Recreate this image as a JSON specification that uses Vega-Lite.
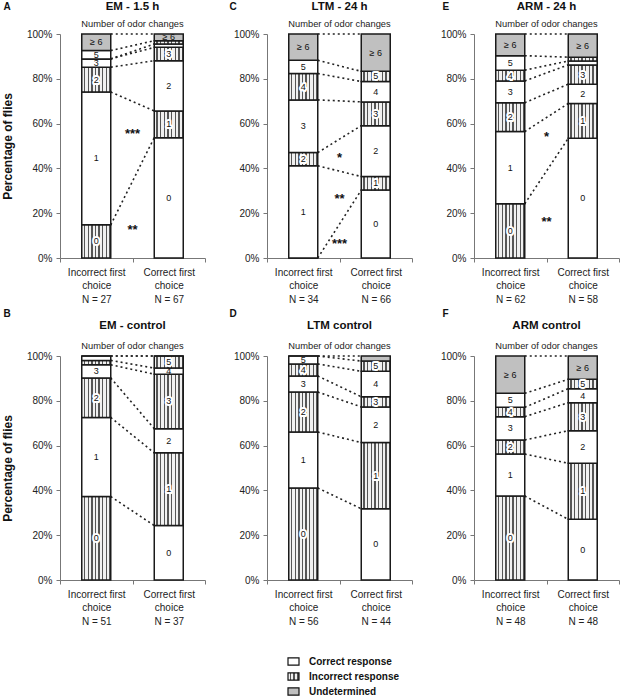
{
  "$schema": "https://vega.github.io/schema/vega-lite/v6.json",
  "background": "white",
  "padding": {"left": 1, "top": 1, "right": 0, "bottom": 0},
  "params": [
    {"name": "hatch", "expr": "{gradient:'linear',x1:0,y1:0,x2:1,y2:0,stops:[{offset:0,color:'#f0f0f0'},{offset:0.075,color:'#f0f0f0'},{offset:0.075,color:'#555'},{offset:0.125,color:'#555'},{offset:0.125,color:'#f0f0f0'},{offset:0.2,color:'#f0f0f0'},{offset:0.2,color:'#555'},{offset:0.25,color:'#555'},{offset:0.25,color:'#f0f0f0'},{offset:0.325,color:'#f0f0f0'},{offset:0.325,color:'#555'},{offset:0.375,color:'#555'},{offset:0.375,color:'#f0f0f0'},{offset:0.45,color:'#f0f0f0'},{offset:0.45,color:'#555'},{offset:0.5,color:'#555'},{offset:0.5,color:'#f0f0f0'},{offset:0.575,color:'#f0f0f0'},{offset:0.575,color:'#555'},{offset:0.625,color:'#555'},{offset:0.625,color:'#f0f0f0'},{offset:0.7,color:'#f0f0f0'},{offset:0.7,color:'#555'},{offset:0.75,color:'#555'},{offset:0.75,color:'#f0f0f0'},{offset:0.825,color:'#f0f0f0'},{offset:0.825,color:'#555'},{offset:0.875,color:'#555'},{offset:0.875,color:'#f0f0f0'},{offset:0.95,color:'#f0f0f0'},{offset:0.95,color:'#555'},{offset:1,color:'#555'}]}"}
  ],
  "datasets": {
    "counts": [
      {"p": "A", "choice": "Incorrect first choice", "k": "0", "n": 4, "resp": "Incorrect response"},
      {"p": "A", "choice": "Incorrect first choice", "k": "1", "n": 16, "resp": "Correct response"},
      {"p": "A", "choice": "Incorrect first choice", "k": "2", "n": 3, "resp": "Incorrect response"},
      {"p": "A", "choice": "Incorrect first choice", "k": "3", "n": 1, "resp": "Correct response"},
      {"p": "A", "choice": "Incorrect first choice", "k": "4", "n": 0, "resp": "Incorrect response"},
      {"p": "A", "choice": "Incorrect first choice", "k": "5", "n": 1, "resp": "Correct response"},
      {"p": "A", "choice": "Incorrect first choice", "k": "≥ 6", "n": 2, "resp": "Undetermined"},
      {"p": "A", "choice": "Correct first choice", "k": "0", "n": 36, "resp": "Correct response"},
      {"p": "A", "choice": "Correct first choice", "k": "1", "n": 8, "resp": "Incorrect response"},
      {"p": "A", "choice": "Correct first choice", "k": "2", "n": 15, "resp": "Correct response"},
      {"p": "A", "choice": "Correct first choice", "k": "3", "n": 4, "resp": "Incorrect response"},
      {"p": "A", "choice": "Correct first choice", "k": "4", "n": 1, "resp": "Correct response"},
      {"p": "A", "choice": "Correct first choice", "k": "5", "n": 1, "resp": "Incorrect response"},
      {"p": "A", "choice": "Correct first choice", "k": "≥ 6", "n": 2, "resp": "Undetermined"},

      {"p": "C", "choice": "Incorrect first choice", "k": "0", "n": 0, "resp": "Incorrect response"},
      {"p": "C", "choice": "Incorrect first choice", "k": "1", "n": 14, "resp": "Correct response"},
      {"p": "C", "choice": "Incorrect first choice", "k": "2", "n": 2, "resp": "Incorrect response"},
      {"p": "C", "choice": "Incorrect first choice", "k": "3", "n": 8, "resp": "Correct response"},
      {"p": "C", "choice": "Incorrect first choice", "k": "4", "n": 4, "resp": "Incorrect response"},
      {"p": "C", "choice": "Incorrect first choice", "k": "5", "n": 2, "resp": "Correct response"},
      {"p": "C", "choice": "Incorrect first choice", "k": "≥ 6", "n": 4, "resp": "Undetermined"},
      {"p": "C", "choice": "Correct first choice", "k": "0", "n": 20, "resp": "Correct response"},
      {"p": "C", "choice": "Correct first choice", "k": "1", "n": 4, "resp": "Incorrect response"},
      {"p": "C", "choice": "Correct first choice", "k": "2", "n": 15, "resp": "Correct response"},
      {"p": "C", "choice": "Correct first choice", "k": "3", "n": 7, "resp": "Incorrect response"},
      {"p": "C", "choice": "Correct first choice", "k": "4", "n": 6, "resp": "Correct response"},
      {"p": "C", "choice": "Correct first choice", "k": "5", "n": 3, "resp": "Incorrect response"},
      {"p": "C", "choice": "Correct first choice", "k": "≥ 6", "n": 11, "resp": "Undetermined"},

      {"p": "E", "choice": "Incorrect first choice", "k": "0", "n": 15, "resp": "Incorrect response"},
      {"p": "E", "choice": "Incorrect first choice", "k": "1", "n": 20, "resp": "Correct response"},
      {"p": "E", "choice": "Incorrect first choice", "k": "2", "n": 8, "resp": "Incorrect response"},
      {"p": "E", "choice": "Incorrect first choice", "k": "3", "n": 6, "resp": "Correct response"},
      {"p": "E", "choice": "Incorrect first choice", "k": "4", "n": 3, "resp": "Incorrect response"},
      {"p": "E", "choice": "Incorrect first choice", "k": "5", "n": 4, "resp": "Correct response"},
      {"p": "E", "choice": "Incorrect first choice", "k": "≥ 6", "n": 6, "resp": "Undetermined"},
      {"p": "E", "choice": "Correct first choice", "k": "0", "n": 31, "resp": "Correct response"},
      {"p": "E", "choice": "Correct first choice", "k": "1", "n": 9, "resp": "Incorrect response"},
      {"p": "E", "choice": "Correct first choice", "k": "2", "n": 5, "resp": "Correct response"},
      {"p": "E", "choice": "Correct first choice", "k": "3", "n": 5, "resp": "Incorrect response"},
      {"p": "E", "choice": "Correct first choice", "k": "4", "n": 1, "resp": "Correct response"},
      {"p": "E", "choice": "Correct first choice", "k": "5", "n": 1, "resp": "Incorrect response"},
      {"p": "E", "choice": "Correct first choice", "k": "≥ 6", "n": 6, "resp": "Undetermined"},

      {"p": "B", "choice": "Incorrect first choice", "k": "0", "n": 19, "resp": "Incorrect response"},
      {"p": "B", "choice": "Incorrect first choice", "k": "1", "n": 18, "resp": "Correct response"},
      {"p": "B", "choice": "Incorrect first choice", "k": "2", "n": 9, "resp": "Incorrect response"},
      {"p": "B", "choice": "Incorrect first choice", "k": "3", "n": 3, "resp": "Correct response"},
      {"p": "B", "choice": "Incorrect first choice", "k": "4", "n": 1, "resp": "Incorrect response"},
      {"p": "B", "choice": "Incorrect first choice", "k": "5", "n": 1, "resp": "Correct response"},
      {"p": "B", "choice": "Incorrect first choice", "k": "≥ 6", "n": 0, "resp": "Undetermined"},
      {"p": "B", "choice": "Correct first choice", "k": "0", "n": 9, "resp": "Correct response"},
      {"p": "B", "choice": "Correct first choice", "k": "1", "n": 12, "resp": "Incorrect response"},
      {"p": "B", "choice": "Correct first choice", "k": "2", "n": 4, "resp": "Correct response"},
      {"p": "B", "choice": "Correct first choice", "k": "3", "n": 9, "resp": "Incorrect response"},
      {"p": "B", "choice": "Correct first choice", "k": "4", "n": 1, "resp": "Correct response"},
      {"p": "B", "choice": "Correct first choice", "k": "5", "n": 2, "resp": "Incorrect response"},
      {"p": "B", "choice": "Correct first choice", "k": "≥ 6", "n": 0, "resp": "Undetermined"},

      {"p": "D", "choice": "Incorrect first choice", "k": "0", "n": 23, "resp": "Incorrect response"},
      {"p": "D", "choice": "Incorrect first choice", "k": "1", "n": 14, "resp": "Correct response"},
      {"p": "D", "choice": "Incorrect first choice", "k": "2", "n": 10, "resp": "Incorrect response"},
      {"p": "D", "choice": "Incorrect first choice", "k": "3", "n": 4, "resp": "Correct response"},
      {"p": "D", "choice": "Incorrect first choice", "k": "4", "n": 3, "resp": "Incorrect response"},
      {"p": "D", "choice": "Incorrect first choice", "k": "5", "n": 2, "resp": "Correct response"},
      {"p": "D", "choice": "Incorrect first choice", "k": "≥ 6", "n": 0, "resp": "Undetermined"},
      {"p": "D", "choice": "Correct first choice", "k": "0", "n": 14, "resp": "Correct response"},
      {"p": "D", "choice": "Correct first choice", "k": "1", "n": 13, "resp": "Incorrect response"},
      {"p": "D", "choice": "Correct first choice", "k": "2", "n": 7, "resp": "Correct response"},
      {"p": "D", "choice": "Correct first choice", "k": "3", "n": 2, "resp": "Incorrect response"},
      {"p": "D", "choice": "Correct first choice", "k": "4", "n": 5, "resp": "Correct response"},
      {"p": "D", "choice": "Correct first choice", "k": "5", "n": 2, "resp": "Incorrect response"},
      {"p": "D", "choice": "Correct first choice", "k": "≥ 6", "n": 1, "resp": "Undetermined"},

      {"p": "F", "choice": "Incorrect first choice", "k": "0", "n": 18, "resp": "Incorrect response"},
      {"p": "F", "choice": "Incorrect first choice", "k": "1", "n": 9, "resp": "Correct response"},
      {"p": "F", "choice": "Incorrect first choice", "k": "2", "n": 3, "resp": "Incorrect response"},
      {"p": "F", "choice": "Incorrect first choice", "k": "3", "n": 5, "resp": "Correct response"},
      {"p": "F", "choice": "Incorrect first choice", "k": "4", "n": 2, "resp": "Incorrect response"},
      {"p": "F", "choice": "Incorrect first choice", "k": "5", "n": 3, "resp": "Correct response"},
      {"p": "F", "choice": "Incorrect first choice", "k": "≥ 6", "n": 8, "resp": "Undetermined"},
      {"p": "F", "choice": "Correct first choice", "k": "0", "n": 13, "resp": "Correct response"},
      {"p": "F", "choice": "Correct first choice", "k": "1", "n": 12, "resp": "Incorrect response"},
      {"p": "F", "choice": "Correct first choice", "k": "2", "n": 7, "resp": "Correct response"},
      {"p": "F", "choice": "Correct first choice", "k": "3", "n": 6, "resp": "Incorrect response"},
      {"p": "F", "choice": "Correct first choice", "k": "4", "n": 3, "resp": "Correct response"},
      {"p": "F", "choice": "Correct first choice", "k": "5", "n": 2, "resp": "Incorrect response"},
      {"p": "F", "choice": "Correct first choice", "k": "≥ 6", "n": 5, "resp": "Undetermined"}
    ],
    "stars": [
      {"p": "A", "s": "***", "y": 0.566},
      {"p": "A", "s": "**", "y": 0.138},
      {"p": "C", "s": "*", "y": 0.462},
      {"p": "C", "s": "**", "y": 0.278},
      {"p": "C", "s": "***", "y": 0.078},
      {"p": "E", "s": "*", "y": 0.552},
      {"p": "E", "s": "**", "y": 0.175}
    ]
  },
  "data": {"name": "counts"},
  "columns": 3,
  "spacing": {"row": 98, "column": 62},
  "bounds": "flush",
  "resolve": {"scale": {"x": "independent", "y": "independent", "fill": "shared"}, "legend": {"fill": "shared"}},
  "concat": [
    {
      "width": 145, "height": 224,
      "title": {"text": "EM - 1.5 h", "subtitle": "Number of odor changes", "subtitlePadding": 7, "offset": -28},
      "transform": [{"filter": "datum.p == 'A'"}],
      "layer": [
        {
          "transform": [
            {"stack": "n", "groupby": ["choice"], "sort": [{"field": "k", "order": "ascending"}], "offset": "normalize", "as": ["y0", "y1"]},
            {"pivot": "choice", "value": "y1", "groupby": ["k"]}
          ],
          "mark": {"type": "rule", "strokeDash": [2, 3], "strokeWidth": 1.6, "color": "#222"},
          "encoding": {
            "x": {"datum": "Incorrect first choice", "type": "nominal", "bandPosition": 0.7},
            "x2": {"datum": "Correct first choice", "bandPosition": 0.3},
            "y": {"field": "Incorrect first choice", "type": "quantitative"},
            "y2": {"field": "Correct first choice"}
          }
        },
        {
          "mark": {"type": "bar", "stroke": "#1a1a1a", "strokeWidth": 1.5, "width": {"band": 0.4}},
          "encoding": {
            "x": {"field": "choice", "type": "nominal", "scale": {"domain": ["Incorrect first choice", "Correct first choice"], "paddingInner": 0, "paddingOuter": 0},
              "axis": {"labelExpr": "datum.value == 'Incorrect first choice' ? ['Incorrect first', 'choice', 'N = 27'] : datum.value == 'Correct first choice' ? ['Correct first', 'choice', 'N = 67'] : ''",
                "title": "A", "titleX": -57, "titleY": -252}},
            "y": {"field": "n", "type": "quantitative", "stack": "normalize", "scale": {"domain": [0, 1], "nice": false},
              "axis": {"title": "Percentage of flies"}},
            "order": {"field": "k", "sort": "ascending"},
            "fill": {"field": "resp", "type": "nominal", "scale": {"domain": ["Correct response", "Incorrect response", "Undetermined"], "range": ["white", {"expr": "hatch"}, "#c0c0c0"]}, "legend": {"title": null}}
          }
        },
        {
          "mark": {"type": "text", "stroke": "white", "strokeWidth": 4, "strokeJoin": "round", "fill": "white", "fontSize": 9},
          "encoding": {
            "x": {"field": "choice", "type": "nominal"},
            "y": {"field": "n", "type": "quantitative", "stack": "normalize", "bandPosition": 0.5},
            "order": {"field": "k", "sort": "ascending"},
            "text": {"field": "k"},
            "opacity": {"condition": {"test": "datum.resp == 'Incorrect response' && datum.n_end - datum.n_start > 0.025", "value": 1}, "value": 0}
          }
        },
        {
          "mark": {"type": "text", "fontSize": 9, "color": "#111"},
          "encoding": {
            "x": {"field": "choice", "type": "nominal"},
            "y": {"field": "n", "type": "quantitative", "stack": "normalize", "bandPosition": 0.5},
            "order": {"field": "k", "sort": "ascending"},
            "text": {"field": "k"},
            "opacity": {"condition": {"test": "datum.n_end - datum.n_start > 0.025", "value": 1}, "value": 0}
          }
        },
        {
          "data": {"name": "stars"},
          "transform": [{"filter": "datum.p == 'A'"}],
          "mark": {"type": "text", "fontSize": 13, "fontWeight": "bold", "baseline": "middle", "dy": 3, "color": "#111"},
          "encoding": {
            "x": {"datum": "Correct first choice", "type": "nominal", "bandPosition": 0},
            "y": {"field": "y", "type": "quantitative"},
            "text": {"field": "s"}
          }
        }
      ]
    },
    {
      "width": 145, "height": 224,
      "title": {"text": "LTM - 24 h", "subtitle": "Number of odor changes", "subtitlePadding": 7, "offset": -28},
      "transform": [{"filter": "datum.p == 'C'"}],
      "layer": [
        {
          "transform": [
            {"stack": "n", "groupby": ["choice"], "sort": [{"field": "k", "order": "ascending"}], "offset": "normalize", "as": ["y0", "y1"]},
            {"pivot": "choice", "value": "y1", "groupby": ["k"]}
          ],
          "mark": {"type": "rule", "strokeDash": [2, 3], "strokeWidth": 1.6, "color": "#222"},
          "encoding": {
            "x": {"datum": "Incorrect first choice", "type": "nominal", "bandPosition": 0.7},
            "x2": {"datum": "Correct first choice", "bandPosition": 0.3},
            "y": {"field": "Incorrect first choice", "type": "quantitative"},
            "y2": {"field": "Correct first choice"}
          }
        },
        {
          "mark": {"type": "bar", "stroke": "#1a1a1a", "strokeWidth": 1.5, "width": {"band": 0.4}},
          "encoding": {
            "x": {"field": "choice", "type": "nominal", "scale": {"domain": ["Incorrect first choice", "Correct first choice"], "paddingInner": 0, "paddingOuter": 0},
              "axis": {"labelExpr": "datum.value == 'Incorrect first choice' ? ['Incorrect first', 'choice', 'N = 34'] : datum.value == 'Correct first choice' ? ['Correct first', 'choice', 'N = 66'] : ''",
                "title": "C", "titleX": -38, "titleY": -252}},
            "y": {"field": "n", "type": "quantitative", "stack": "normalize", "scale": {"domain": [0, 1], "nice": false},
              "axis": {"title": null}},
            "order": {"field": "k", "sort": "ascending"},
            "fill": {"field": "resp", "type": "nominal", "scale": {"domain": ["Correct response", "Incorrect response", "Undetermined"], "range": ["white", {"expr": "hatch"}, "#c0c0c0"]}, "legend": {"title": null}}
          }
        },
        {
          "mark": {"type": "text", "stroke": "white", "strokeWidth": 4, "strokeJoin": "round", "fill": "white", "fontSize": 9},
          "encoding": {
            "x": {"field": "choice", "type": "nominal"},
            "y": {"field": "n", "type": "quantitative", "stack": "normalize", "bandPosition": 0.5},
            "order": {"field": "k", "sort": "ascending"},
            "text": {"field": "k"},
            "opacity": {"condition": {"test": "datum.resp == 'Incorrect response' && datum.n_end - datum.n_start > 0.025", "value": 1}, "value": 0}
          }
        },
        {
          "mark": {"type": "text", "fontSize": 9, "color": "#111"},
          "encoding": {
            "x": {"field": "choice", "type": "nominal"},
            "y": {"field": "n", "type": "quantitative", "stack": "normalize", "bandPosition": 0.5},
            "order": {"field": "k", "sort": "ascending"},
            "text": {"field": "k"},
            "opacity": {"condition": {"test": "datum.n_end - datum.n_start > 0.025", "value": 1}, "value": 0}
          }
        },
        {
          "data": {"name": "stars"},
          "transform": [{"filter": "datum.p == 'C'"}],
          "mark": {"type": "text", "fontSize": 13, "fontWeight": "bold", "baseline": "middle", "dy": 3, "color": "#111"},
          "encoding": {
            "x": {"datum": "Correct first choice", "type": "nominal", "bandPosition": 0},
            "y": {"field": "y", "type": "quantitative"},
            "text": {"field": "s"}
          }
        }
      ]
    },
    {
      "width": 145, "height": 224,
      "title": {"text": "ARM - 24 h", "subtitle": "Number of odor changes", "subtitlePadding": 7, "offset": -28},
      "transform": [{"filter": "datum.p == 'E'"}],
      "layer": [
        {
          "transform": [
            {"stack": "n", "groupby": ["choice"], "sort": [{"field": "k", "order": "ascending"}], "offset": "normalize", "as": ["y0", "y1"]},
            {"pivot": "choice", "value": "y1", "groupby": ["k"]}
          ],
          "mark": {"type": "rule", "strokeDash": [2, 3], "strokeWidth": 1.6, "color": "#222"},
          "encoding": {
            "x": {"datum": "Incorrect first choice", "type": "nominal", "bandPosition": 0.7},
            "x2": {"datum": "Correct first choice", "bandPosition": 0.3},
            "y": {"field": "Incorrect first choice", "type": "quantitative"},
            "y2": {"field": "Correct first choice"}
          }
        },
        {
          "mark": {"type": "bar", "stroke": "#1a1a1a", "strokeWidth": 1.5, "width": {"band": 0.4}},
          "encoding": {
            "x": {"field": "choice", "type": "nominal", "scale": {"domain": ["Incorrect first choice", "Correct first choice"], "paddingInner": 0, "paddingOuter": 0},
              "axis": {"labelExpr": "datum.value == 'Incorrect first choice' ? ['Incorrect first', 'choice', 'N = 62'] : datum.value == 'Correct first choice' ? ['Correct first', 'choice', 'N = 58'] : ''",
                "title": "E", "titleX": -32, "titleY": -252}},
            "y": {"field": "n", "type": "quantitative", "stack": "normalize", "scale": {"domain": [0, 1], "nice": false},
              "axis": {"title": null}},
            "order": {"field": "k", "sort": "ascending"},
            "fill": {"field": "resp", "type": "nominal", "scale": {"domain": ["Correct response", "Incorrect response", "Undetermined"], "range": ["white", {"expr": "hatch"}, "#c0c0c0"]}, "legend": {"title": null}}
          }
        },
        {
          "mark": {"type": "text", "stroke": "white", "strokeWidth": 4, "strokeJoin": "round", "fill": "white", "fontSize": 9},
          "encoding": {
            "x": {"field": "choice", "type": "nominal"},
            "y": {"field": "n", "type": "quantitative", "stack": "normalize", "bandPosition": 0.5},
            "order": {"field": "k", "sort": "ascending"},
            "text": {"field": "k"},
            "opacity": {"condition": {"test": "datum.resp == 'Incorrect response' && datum.n_end - datum.n_start > 0.025", "value": 1}, "value": 0}
          }
        },
        {
          "mark": {"type": "text", "fontSize": 9, "color": "#111"},
          "encoding": {
            "x": {"field": "choice", "type": "nominal"},
            "y": {"field": "n", "type": "quantitative", "stack": "normalize", "bandPosition": 0.5},
            "order": {"field": "k", "sort": "ascending"},
            "text": {"field": "k"},
            "opacity": {"condition": {"test": "datum.n_end - datum.n_start > 0.025", "value": 1}, "value": 0}
          }
        },
        {
          "data": {"name": "stars"},
          "transform": [{"filter": "datum.p == 'E'"}],
          "mark": {"type": "text", "fontSize": 13, "fontWeight": "bold", "baseline": "middle", "dy": 3, "color": "#111"},
          "encoding": {
            "x": {"datum": "Correct first choice", "type": "nominal", "bandPosition": 0},
            "y": {"field": "y", "type": "quantitative"},
            "text": {"field": "s"}
          }
        }
      ]
    },
    {
      "width": 145, "height": 224,
      "title": {"text": "EM - control", "subtitle": "Number of odor changes", "subtitlePadding": 10, "offset": -43},
      "transform": [{"filter": "datum.p == 'B'"}],
      "layer": [
        {
          "transform": [
            {"stack": "n", "groupby": ["choice"], "sort": [{"field": "k", "order": "ascending"}], "offset": "normalize", "as": ["y0", "y1"]},
            {"pivot": "choice", "value": "y1", "groupby": ["k"]}
          ],
          "mark": {"type": "rule", "strokeDash": [2, 3], "strokeWidth": 1.6, "color": "#222"},
          "encoding": {
            "x": {"datum": "Incorrect first choice", "type": "nominal", "bandPosition": 0.7},
            "x2": {"datum": "Correct first choice", "bandPosition": 0.3},
            "y": {"field": "Incorrect first choice", "type": "quantitative"},
            "y2": {"field": "Correct first choice"}
          }
        },
        {
          "mark": {"type": "bar", "stroke": "#1a1a1a", "strokeWidth": 1.5, "width": {"band": 0.4}},
          "encoding": {
            "x": {"field": "choice", "type": "nominal", "scale": {"domain": ["Incorrect first choice", "Correct first choice"], "paddingInner": 0, "paddingOuter": 0},
              "axis": {"labelExpr": "datum.value == 'Incorrect first choice' ? ['Incorrect first', 'choice', 'N = 51'] : datum.value == 'Correct first choice' ? ['Correct first', 'choice', 'N = 37'] : ''",
                "title": "B", "titleX": -57, "titleY": -267}},
            "y": {"field": "n", "type": "quantitative", "stack": "normalize", "scale": {"domain": [0, 1], "nice": false},
              "axis": {"title": "Percentage of flies"}},
            "order": {"field": "k", "sort": "ascending"},
            "fill": {"field": "resp", "type": "nominal", "scale": {"domain": ["Correct response", "Incorrect response", "Undetermined"], "range": ["white", {"expr": "hatch"}, "#c0c0c0"]}, "legend": {"title": null}}
          }
        },
        {
          "mark": {"type": "text", "stroke": "white", "strokeWidth": 4, "strokeJoin": "round", "fill": "white", "fontSize": 9},
          "encoding": {
            "x": {"field": "choice", "type": "nominal"},
            "y": {"field": "n", "type": "quantitative", "stack": "normalize", "bandPosition": 0.5},
            "order": {"field": "k", "sort": "ascending"},
            "text": {"field": "k"},
            "opacity": {"condition": {"test": "datum.resp == 'Incorrect response' && datum.n_end - datum.n_start > 0.025", "value": 1}, "value": 0}
          }
        },
        {
          "mark": {"type": "text", "fontSize": 9, "color": "#111"},
          "encoding": {
            "x": {"field": "choice", "type": "nominal"},
            "y": {"field": "n", "type": "quantitative", "stack": "normalize", "bandPosition": 0.5},
            "order": {"field": "k", "sort": "ascending"},
            "text": {"field": "k"},
            "opacity": {"condition": {"test": "datum.n_end - datum.n_start > 0.025", "value": 1}, "value": 0}
          }
        }
      ]
    },
    {
      "width": 145, "height": 224,
      "title": {"text": "LTM control", "subtitle": "Number of odor changes", "subtitlePadding": 10, "offset": -43},
      "transform": [{"filter": "datum.p == 'D'"}],
      "layer": [
        {
          "transform": [
            {"stack": "n", "groupby": ["choice"], "sort": [{"field": "k", "order": "ascending"}], "offset": "normalize", "as": ["y0", "y1"]},
            {"pivot": "choice", "value": "y1", "groupby": ["k"]}
          ],
          "mark": {"type": "rule", "strokeDash": [2, 3], "strokeWidth": 1.6, "color": "#222"},
          "encoding": {
            "x": {"datum": "Incorrect first choice", "type": "nominal", "bandPosition": 0.7},
            "x2": {"datum": "Correct first choice", "bandPosition": 0.3},
            "y": {"field": "Incorrect first choice", "type": "quantitative"},
            "y2": {"field": "Correct first choice"}
          }
        },
        {
          "mark": {"type": "bar", "stroke": "#1a1a1a", "strokeWidth": 1.5, "width": {"band": 0.4}},
          "encoding": {
            "x": {"field": "choice", "type": "nominal", "scale": {"domain": ["Incorrect first choice", "Correct first choice"], "paddingInner": 0, "paddingOuter": 0},
              "axis": {"labelExpr": "datum.value == 'Incorrect first choice' ? ['Incorrect first', 'choice', 'N = 56'] : datum.value == 'Correct first choice' ? ['Correct first', 'choice', 'N = 44'] : ''",
                "title": "D", "titleX": -38, "titleY": -267}},
            "y": {"field": "n", "type": "quantitative", "stack": "normalize", "scale": {"domain": [0, 1], "nice": false},
              "axis": {"title": null}},
            "order": {"field": "k", "sort": "ascending"},
            "fill": {"field": "resp", "type": "nominal", "scale": {"domain": ["Correct response", "Incorrect response", "Undetermined"], "range": ["white", {"expr": "hatch"}, "#c0c0c0"]}, "legend": {"title": null}}
          }
        },
        {
          "mark": {"type": "text", "stroke": "white", "strokeWidth": 4, "strokeJoin": "round", "fill": "white", "fontSize": 9},
          "encoding": {
            "x": {"field": "choice", "type": "nominal"},
            "y": {"field": "n", "type": "quantitative", "stack": "normalize", "bandPosition": 0.5},
            "order": {"field": "k", "sort": "ascending"},
            "text": {"field": "k"},
            "opacity": {"condition": {"test": "datum.resp == 'Incorrect response' && datum.n_end - datum.n_start > 0.025", "value": 1}, "value": 0}
          }
        },
        {
          "mark": {"type": "text", "fontSize": 9, "color": "#111"},
          "encoding": {
            "x": {"field": "choice", "type": "nominal"},
            "y": {"field": "n", "type": "quantitative", "stack": "normalize", "bandPosition": 0.5},
            "order": {"field": "k", "sort": "ascending"},
            "text": {"field": "k"},
            "opacity": {"condition": {"test": "datum.n_end - datum.n_start > 0.025", "value": 1}, "value": 0}
          }
        }
      ]
    },
    {
      "width": 145, "height": 224,
      "title": {"text": "ARM control", "subtitle": "Number of odor changes", "subtitlePadding": 10, "offset": -43},
      "transform": [{"filter": "datum.p == 'F'"}],
      "layer": [
        {
          "transform": [
            {"stack": "n", "groupby": ["choice"], "sort": [{"field": "k", "order": "ascending"}], "offset": "normalize", "as": ["y0", "y1"]},
            {"pivot": "choice", "value": "y1", "groupby": ["k"]}
          ],
          "mark": {"type": "rule", "strokeDash": [2, 3], "strokeWidth": 1.6, "color": "#222"},
          "encoding": {
            "x": {"datum": "Incorrect first choice", "type": "nominal", "bandPosition": 0.7},
            "x2": {"datum": "Correct first choice", "bandPosition": 0.3},
            "y": {"field": "Incorrect first choice", "type": "quantitative"},
            "y2": {"field": "Correct first choice"}
          }
        },
        {
          "mark": {"type": "bar", "stroke": "#1a1a1a", "strokeWidth": 1.5, "width": {"band": 0.4}},
          "encoding": {
            "x": {"field": "choice", "type": "nominal", "scale": {"domain": ["Incorrect first choice", "Correct first choice"], "paddingInner": 0, "paddingOuter": 0},
              "axis": {"labelExpr": "datum.value == 'Incorrect first choice' ? ['Incorrect first', 'choice', 'N = 48'] : datum.value == 'Correct first choice' ? ['Correct first', 'choice', 'N = 48'] : ''",
                "title": "F", "titleX": -32, "titleY": -267}},
            "y": {"field": "n", "type": "quantitative", "stack": "normalize", "scale": {"domain": [0, 1], "nice": false},
              "axis": {"title": null}},
            "order": {"field": "k", "sort": "ascending"},
            "fill": {"field": "resp", "type": "nominal", "scale": {"domain": ["Correct response", "Incorrect response", "Undetermined"], "range": ["white", {"expr": "hatch"}, "#c0c0c0"]}, "legend": {"title": null}}
          }
        },
        {
          "mark": {"type": "text", "stroke": "white", "strokeWidth": 4, "strokeJoin": "round", "fill": "white", "fontSize": 9},
          "encoding": {
            "x": {"field": "choice", "type": "nominal"},
            "y": {"field": "n", "type": "quantitative", "stack": "normalize", "bandPosition": 0.5},
            "order": {"field": "k", "sort": "ascending"},
            "text": {"field": "k"},
            "opacity": {"condition": {"test": "datum.resp == 'Incorrect response' && datum.n_end - datum.n_start > 0.025", "value": 1}, "value": 0}
          }
        },
        {
          "mark": {"type": "text", "fontSize": 9, "color": "#111"},
          "encoding": {
            "x": {"field": "choice", "type": "nominal"},
            "y": {"field": "n", "type": "quantitative", "stack": "normalize", "bandPosition": 0.5},
            "order": {"field": "k", "sort": "ascending"},
            "text": {"field": "k"},
            "opacity": {"condition": {"test": "datum.n_end - datum.n_start > 0.025", "value": 1}, "value": 0}
          }
        }
      ]
    }
  ],
  "config": {
    "font": "Liberation Sans",
    "view": {"stroke": null},
    "title": {"font": "Liberation Sans", "fontSize": 11.5, "fontWeight": "bold", "color": "#111", "subtitleFont": "Liberation Sans", "subtitleFontSize": 9.3, "subtitleColor": "#222", "anchor": "middle", "frame": "group"},
    "axis": {"grid": false, "domainColor": "#777", "tickColor": "#777", "tickSize": 4, "labelFont": "Liberation Sans", "labelFontSize": 10, "labelColor": "#222", "titleFont": "Liberation Sans", "titleColor": "#111"},
    "axisX": {"tickBand": "extent", "labelAngle": 0, "labelPadding": 5, "labelLineHeight": 13.5, "labelBaseline": "top", "titleFontSize": 10, "titleFontWeight": "bold", "titleAngle": 0, "titleAlign": "left", "titleBaseline": "middle"},
    "axisY": {"values": [0, 0.1, 0.2, 0.3, 0.4, 0.5, 0.6, 0.7, 0.8, 0.9, 1], "format": ".0%", "labelPadding": 4, "titleFontSize": 12, "titleFontWeight": "bold", "titlePadding": 12},
    "legend": {"orient": "none", "legendX": 227, "legendY": 621, "symbolType": "M-1,-0.65H1V0.65H-1Z", "symbolSize": 121, "symbolStrokeColor": "#111", "symbolStrokeWidth": 1.2, "labelFont": "Liberation Sans", "labelFontSize": 10, "labelFontWeight": "bold", "labelColor": "#111", "rowPadding": 2, "labelOffset": 9}
  }
}
